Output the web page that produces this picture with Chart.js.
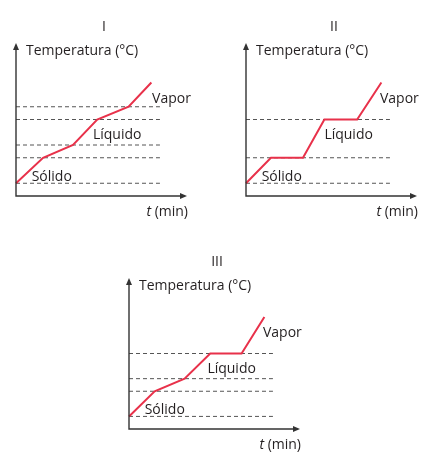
<!DOCTYPE html>
<html>
<head>
<meta charset="utf-8">
<script src="https://cdn.jsdelivr.net/npm/chart.js@4.4.1/dist/chart.umd.min.js"></script>
<style>
  html, body { margin: 0; padding: 0; background: #fff; overflow: hidden; }
  body { width: 434px; height: 463px; position: relative; }
  .box { position: absolute; width: 200px; height: 230px; }
</style>
</head>
<body>
<div class="box" style="left:0px;top:0px"><canvas id="chartI"></canvas></div>
<div class="box" style="left:230px;top:0px"><canvas id="chartII"></canvas></div>
<div class="box" style="left:113px;top:235px"><canvas id="chartIII"></canvas></div>
<script>
// curve I
var tI = [0, 1.9, 4.0, 5.7, 7.9, 9.5];
var tempI = [1, 3, 4, 6, 7, 8.9];
var dashI = [1, 3, 4, 6, 7];
// curve II
var tII = [0, 1.75, 4.0, 5.5, 7.8, 9.5];
var tempII = [1, 3, 3, 6, 6, 8.9];
var dashII = [1, 3, 6];
// curve III
var tIII = [0, 1.8, 3.9, 5.7, 7.9, 9.5];
var tempIII = [1, 3, 4, 6, 6, 8.9];
var dashIII = [1, 3, 4, 6];

var phaseNames = ["Sólido", "Líquido", "Vapor"];
var yTitle = "Temperatura (°C)";
var xTitle = "(min)";

var dashEnd = 10.1;
var textColor = "#231f20";
var axisColor = "#333333";
var redColor = "#e8314a";
var fontFamily = "'Open Sans', 'Noto Sans', sans-serif";

// label places in data units (left edge, vertical center)
var phasePlaces = {
  chartI: [[1.1, 1.5], [5.4, 4.8], [9.55, 7.6]],
  chartII: [[1.1, 1.5], [5.5, 4.8], [9.4, 7.6]],
  chartIII: [[1.1, 1.5], [5.5, 4.8], [9.4, 7.6]],
};

var axesPlugin = {
  id: "axesAndText",
  afterDatasetsDraw: function (chart, args, opts) {
    var ctx = chart.ctx;
    var a = chart.chartArea;
    var xs = chart.scales.x, ys = chart.scales.y;
    ctx.save();
    // axes
    ctx.strokeStyle = axisColor;
    ctx.fillStyle = axisColor;
    ctx.lineWidth = 1.4;
    ctx.beginPath();
    ctx.moveTo(a.left, a.top + 4);
    ctx.lineTo(a.left, a.bottom);
    ctx.lineTo(a.right - 4, a.bottom);
    ctx.stroke();
    // arrow heads
    ctx.beginPath();
    ctx.moveTo(a.left, a.top);
    ctx.lineTo(a.left - 3, a.top + 7);
    ctx.lineTo(a.left + 3, a.top + 7);
    ctx.closePath();
    ctx.fill();
    ctx.beginPath();
    ctx.moveTo(a.right, a.bottom);
    ctx.lineTo(a.right - 7, a.bottom - 3);
    ctx.lineTo(a.right - 7, a.bottom + 3);
    ctx.closePath();
    ctx.fill();

    ctx.fillStyle = textColor;
    ctx.textBaseline = "middle";
    ctx.font = "14px " + fontFamily;
    // roman numeral title
    ctx.textAlign = "center";
    ctx.fillText(opts.title, a.left + 88, a.top - 16);
    // y axis title
    ctx.textAlign = "left";
    ctx.fillText(yTitle, a.left + 10, a.top + 8);
    // x axis title
    ctx.textAlign = "right";
    var w = ctx.measureText(" " + xTitle).width;
    ctx.fillText(" " + xTitle, a.right + 1, a.bottom + 16);
    ctx.font = "italic 14px " + fontFamily;
    ctx.fillText("t", a.right + 1 - w, a.bottom + 16);
    // phase names
    ctx.font = "14px " + fontFamily;
    ctx.textAlign = "left";
    opts.places.forEach(function (p, i) {
      ctx.fillText(phaseNames[i], xs.getPixelForValue(p[0]), ys.getPixelForValue(p[1]));
    });
    ctx.restore();
  },
};

function makeChart(id, title, times, temps, dashes, pad) {
  var datasets = [
    {
      data: times.map(function (t, i) { return { x: t, y: temps[i] }; }),
      borderColor: redColor,
      borderWidth: 2,
      pointRadius: 0,
      tension: 0,
      clip: false,
    },
  ];
  dashes.forEach(function (d) {
    datasets.push({
      data: [{ x: 0, y: d }, { x: dashEnd, y: d }],
      borderColor: "#555555",
      borderWidth: 1,
      borderDash: [4, 3],
      pointRadius: 0,
      clip: false,
    });
  });
  return new Chart(document.getElementById(id), {
    type: "line",
    data: { datasets: datasets },
    options: {
      responsive: true,
      maintainAspectRatio: false,
      animation: false,
      events: [],
      layout: { padding: pad },
      scales: {
        x: { type: "linear", min: 0, max: 12, display: false },
        y: { type: "linear", min: 0, max: 12, display: false },
      },
      plugins: {
        legend: { display: false },
        tooltip: { enabled: false },
        axesAndText: { title: title, places: phasePlaces[id] },
      },
    },
    plugins: [axesPlugin],
  });
}

makeChart("chartI", "I", tI, tempI, dashI, { left: 16, top: 43, right: 13, bottom: 34 });
makeChart("chartII", "II", tII, tempII, dashII, { left: 16, top: 43, right: 13, bottom: 34 });
makeChart("chartIII", "III", tIII, tempIII, dashIII, { left: 16, top: 43, right: 13, bottom: 36 });
</script>
</body>
</html>
